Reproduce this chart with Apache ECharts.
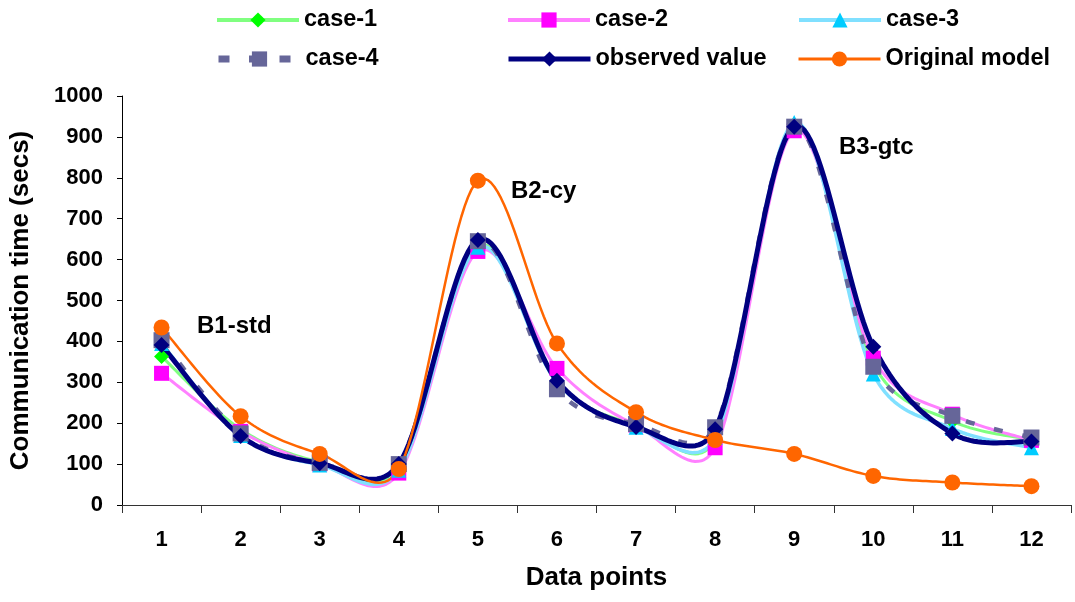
<!DOCTYPE html>
<html><head><meta charset="utf-8">
<script src="https://cdn.jsdelivr.net/npm/echarts@6/dist/echarts.min.js"></script>
<style>html,body{margin:0;padding:0;background:#fff}#c{width:1075px;height:602px}</style>
</head><body><div id="c"></div>
<script>
var categories = ['1','2','3','4','5','6','7','8','9','10','11','12'];
var case1 = [363, 185, 105, 90, 635, 300, 195, 160, 930, 345, 205, 160];
var case2 = [322, 180, 100, 78, 620, 334, 195, 140, 915, 359, 222, 158];
var case3 = [395, 170, 98, 85, 630, 300, 190, 165, 935, 320, 187, 140];
var case4 = [403, 175, 103, 100, 645, 283, 198, 190, 925, 338, 218, 165];
var observed = [391, 169, 102, 100, 648, 304, 191, 185, 925, 387, 175, 155];
var original = [434, 217, 125, 88, 793, 395, 227, 159, 125, 71, 55, 46];
var yTicks = {min: 0, max: 1000, interval: 100};

var FONT = 'Arial, "Liberation Sans", sans-serif';
var chart = echarts.init(document.getElementById('c'));

var styles = [
  {name: 'case-1', data: case1, line: '#80FF80', lw: 3, sym: 'diamond', sc: '#00FF00', ss: 15, dash: null, legLw: 4, legDash: 'solid'},
  {name: 'case-2', data: case2, line: '#FF80FF', lw: 3, sym: 'rect', sc: '#FF00FF', ss: 15, dash: null, legLw: 4, legDash: 'solid'},
  {name: 'case-3', data: case3, line: '#80E0FF', lw: 3.5, sym: 'triangle', sc: '#00CCFF', ss: 15, dash: null, legLw: 4, legDash: 'solid'},
  {name: 'case-4', data: case4, line: '#666699', lw: 4.5, sym: 'rect', sc: '#666699', ss: 16, dash: [9, 20], legLw: 7, legDash: [11, 19.5]},
  {name: 'observed value', data: observed, line: '#000080', lw: 5, sym: 'diamond', sc: '#000080', ss: 16, dash: null, legLw: 5, legDash: 'solid'},
  {name: 'Original model', data: original, line: '#FF6600', lw: 2.5, sym: 'circle', sc: '#FF6600', ss: 16, dash: null, legLw: 3, legDash: 'solid'}
];
var legPos = [[210, 3], [501, 3], [792, 3], [210, 42], [501, 42], [792, 42]];

function ctrl(from, a, b, segLen) {
  // offset of 1/6 of (b - a), limited to half the segment length
  var dx = (b[0] - a[0]) / 6, dy = (b[1] - a[1]) / 6;
  var len = Math.sqrt(dx * dx + dy * dy);
  var lim = segLen / 2;
  var s = (len > lim && len > 0) ? lim / len : 1;
  return [dx * s, dy * s];
}
function curve(st) {
  var vals = st.data;
  return {
    type: 'custom', name: st.name + ' (curve)', silent: true,
    data: vals.map(function (v, i) { return [i, v]; }),
    renderItem: function (params, api) {
      if (params.dataIndex !== 0) return null;
      var pts = vals.map(function (v, i) { return api.coord([i, v]); });
      var out = [pts[0]];
      for (var i = 0; i < pts.length - 1; i++) {
        var p0 = pts[i - 1] || pts[i], p1 = pts[i], p2 = pts[i + 1], p3 = pts[i + 2] || pts[i + 1];
        var seg = Math.sqrt(Math.pow(p2[0] - p1[0], 2) + Math.pow(p2[1] - p1[1], 2));
        var o1 = ctrl(p1, p0, p2, seg), o2 = ctrl(p2, p1, p3, seg);
        var c1 = [p1[0] + o1[0], p1[1] + o1[1]];
        var c2 = [p2[0] - o2[0], p2[1] - o2[1]];
        for (var k = 1; k <= 24; k++) {
          var t = k / 24, u = 1 - t;
          var a = u * u * u, b = 3 * u * u * t, c = 3 * u * t * t, d = t * t * t;
          out.push([a * p1[0] + b * c1[0] + c * c2[0] + d * p2[0],
                    a * p1[1] + b * c1[1] + c * c2[1] + d * p2[1]]);
        }
      }
      return {
        type: 'polyline', shape: {points: out},
        style: {stroke: st.line, lineWidth: st.lw, fill: null, lineDash: st.dash || null, lineJoin: 'round'}
      };
    }
  };
}
function marks(st) {
  return {
    name: st.name, type: 'line', data: st.data, symbol: st.sym, symbolSize: st.ss,
    lineStyle: {opacity: 0, width: 0},
    itemStyle: {color: st.sc, borderWidth: 0},
    emphasis: {disabled: true}, silent: true
  };
}
var series = [];
styles.forEach(function (st) { series.push(curve(st)); series.push(marks(st)); });

var legends = styles.map(function (st, i) {
  return {
    data: [{name: st.name, lineStyle: {color: st.line, width: st.legLw, type: st.legDash, opacity: 1}, itemStyle: {color: st.sc}}],
    left: legPos[i][0], top: legPos[i][1], itemWidth: 82, itemHeight: 19, itemGap: 0,
    selectedMode: false,
    textStyle: {fontFamily: FONT, fontWeight: 'bold', fontSize: 23.5, color: '#000'}
  };
});

chart.setOption({
  animation: false,
  legend: legends,
  grid: {left: 121, right: 4, top: 96, bottom: 97},
  xAxis: {
    type: 'category', data: categories, boundaryGap: true,
    name: 'Data points', nameLocation: 'middle', nameGap: 60,
    nameTextStyle: {fontFamily: FONT, fontWeight: 'bold', fontSize: 26, color: '#000'},
    axisLine: {lineStyle: {color: '#333', width: 1}},
    axisTick: {show: true, length: 8, inside: false, alignWithLabel: false, lineStyle: {color: '#333'}},
    axisLabel: {fontFamily: FONT, fontWeight: 'bold', fontSize: 22, color: '#000', margin: 24},
    splitLine: {show: false}
  },
  yAxis: {
    type: 'value', min: yTicks.min, max: yTicks.max, interval: yTicks.interval,
    name: 'Communication time (secs)', nameLocation: 'middle', nameGap: 88,
    nameTextStyle: {fontFamily: FONT, fontWeight: 'bold', fontSize: 26, color: '#000'},
    axisLine: {show: true, lineStyle: {color: '#000', width: 1}},
    axisTick: {show: true, length: 5, lineStyle: {color: '#000'}},
    axisLabel: {fontFamily: FONT, fontWeight: 'bold', fontSize: 22, color: '#000', margin: 19,
      formatter: function (v) { return String(v); }},
    splitLine: {show: false}
  },
  series: series,
  graphic: [
    {type: 'text', left: 197, top: 314, style: {text: 'B1-std', font: 'bold 24px ' + FONT, fill: '#000'}},
    {type: 'text', left: 511, top: 179, style: {text: 'B2-cy', font: 'bold 24px ' + FONT, fill: '#000'}},
    {type: 'text', left: 839, top: 135, style: {text: 'B3-gtc', font: 'bold 24px ' + FONT, fill: '#000'}}
  ]
});
</script></body></html>
